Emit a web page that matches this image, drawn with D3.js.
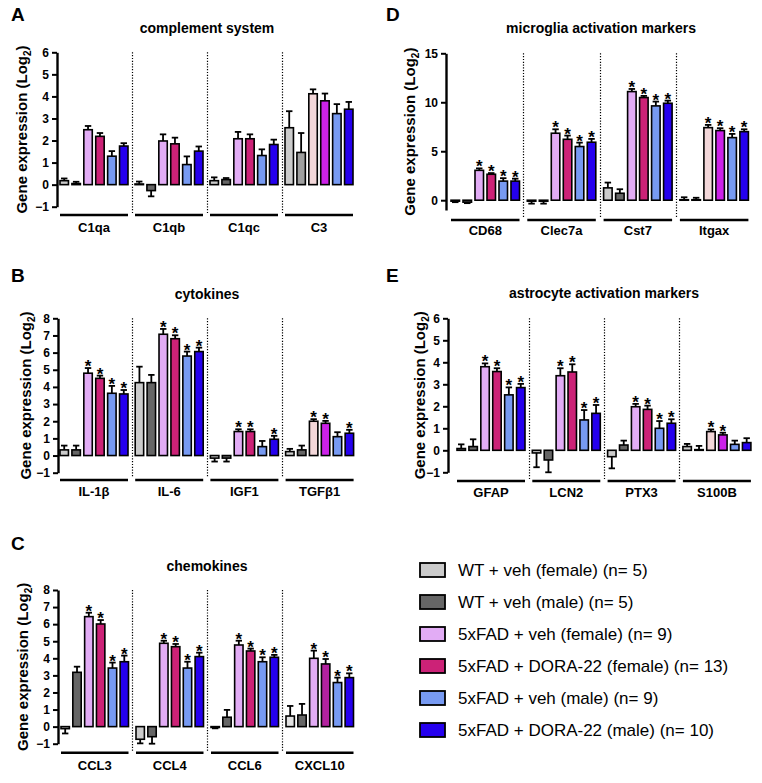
<!DOCTYPE html>
<html><head><meta charset="utf-8">
<script src="https://cdn.jsdelivr.net/npm/d3@7"></script>
<style>
body{margin:0;background:#fff}
svg{display:block}
text{font-family:"Liberation Sans",Arial,Helvetica,sans-serif;fill:#000}
</style>
</head><body>
<svg id="chart" width="762" height="783"></svg>
<script>
// ---------- data ----------
const groupNames = [
  "WT + veh (female) (n= 5)",
  "WT + veh (male) (n= 5)",
  "5xFAD + veh (female) (n= 9)",
  "5xFAD + DORA-22 (female) (n= 13)",
  "5xFAD + veh (male) (n= 9)",
  "5xFAD + DORA-22 (male) (n= 10)"
];

// A: complement system
const complementCats = ["C1qa", "C1qb", "C1qc", "C3"];
const complementMeans = [
  [0.18, 0.05, 2.49, 2.19, 1.29, 1.75],
  [0.03, -0.27, 1.98, 1.85, 0.91, 1.52],
  [0.18, 0.23, 2.08, 2.08, 1.32, 1.82],
  [2.58, 1.46, 4.12, 3.80, 3.22, 3.42]
];
const complementSEM = [
  [0.10, 0.08, 0.17, 0.15, 0.23, 0.13],
  [0.11, 0.26, 0.30, 0.28, 0.37, 0.21],
  [0.15, 0.07, 0.31, 0.20, 0.28, 0.22],
  [0.75, 0.88, 0.20, 0.33, 0.43, 0.33]
];
const complementSig = [
  [0,0,0,0,0,0],[0,0,0,0,0,0],[0,0,0,0,0,0],[0,0,0,0,0,0]
];

// B: cytokines
const cytokineCats = ["IL-1β", "IL-6", "IGF1", "TGFβ1"];
const cytokineMeans = [
  [0.33, 0.33, 4.80, 4.50, 3.63, 3.59],
  [4.25, 4.25, 7.07, 6.81, 5.80, 6.06],
  [-0.15, -0.15, 1.40, 1.40, 0.52, 0.95],
  [0.23, 0.33, 2.00, 1.88, 1.10, 1.30]
];
const cytokineSEM = [
  [0.25, 0.25, 0.30, 0.16, 0.43, 0.23],
  [0.93, 0.45, 0.31, 0.20, 0.26, 0.23],
  [0.20, 0.20, 0.13, 0.13, 0.33, 0.20],
  [0.16, 0.25, 0.12, 0.14, 0.26, 0.20]
];
const cytokineSig = [
  [0,0,1,1,1,1],[0,0,1,1,1,1],[0,0,1,1,0,1],[0,0,1,1,0,1]
];

// C: chemokines
const chemokineCats = ["CCL3", "CCL4", "CCL6", "CXCL10"];
const chemokineMeans = [
  [-0.12, 3.18, 6.44, 6.01, 3.43, 3.80],
  [-0.74, -0.59, 4.88, 4.68, 3.43, 4.10],
  [-0.05, 0.55, 4.78, 4.43, 3.80, 4.06],
  [0.62, 0.68, 4.00, 3.67, 2.58, 2.87]
];
const chemokineSEM = [
  [0.28, 0.33, 0.23, 0.23, 0.32, 0.36],
  [0.24, 0.41, 0.15, 0.16, 0.37, 0.23],
  [0.05, 0.43, 0.25, 0.14, 0.26, 0.14],
  [0.59, 0.65, 0.45, 0.29, 0.29, 0.25]
];
const chemokineSig = [
  [0,0,1,1,1,1],[0,0,1,1,1,1],[0,0,1,1,1,1],[0,0,1,1,1,1]
];

// D: microglia activation markers
const microgliaCats = ["CD68", "Clec7a", "Cst7", "Itgax"];
const microgliaMeans = [
  [-0.10, -0.20, 3.05, 2.65, 1.95, 1.95],
  [-0.10, -0.10, 6.84, 6.22, 5.48, 5.92],
  [1.26, 0.71, 11.09, 10.48, 9.63, 9.90],
  [0.05, 0.05, 7.41, 7.11, 6.39, 7.00]
];
const microgliaSEM = [
  [0.10, 0.10, 0.20, 0.12, 0.30, 0.25],
  [0.25, 0.25, 0.40, 0.38, 0.40, 0.34],
  [0.54, 0.41, 0.27, 0.17, 0.44, 0.27],
  [0.25, 0.20, 0.28, 0.24, 0.38, 0.24]
];
const microgliaSig = [
  [0,0,1,1,1,1],[0,0,1,1,1,1],[0,0,1,1,1,1],[0,0,1,1,1,1]
];

// E: astrocyte activation markers
const astrocyteCats = ["GFAP", "LCN2", "PTX3", "S100B"];
const astrocyteMeans = [
  [0.08, 0.17, 3.80, 3.58, 2.52, 2.85],
  [-0.12, -0.44, 3.39, 3.56, 1.38, 1.68],
  [-0.29, 0.24, 1.98, 1.86, 1.00, 1.23],
  [0.17, 0.03, 0.85, 0.70, 0.27, 0.35]
];
const astrocyteSEM = [
  [0.19, 0.33, 0.15, 0.15, 0.34, 0.17],
  [0.65, 0.56, 0.34, 0.35, 0.45, 0.38],
  [0.53, 0.20, 0.13, 0.17, 0.33, 0.18],
  [0.12, 0.17, 0.10, 0.10, 0.17, 0.20]
];
const astrocyteSig = [
  [0,0,1,1,1,1],[0,0,1,1,1,1],[0,0,1,1,1,1],[0,0,1,1,0,0]
];

// ---------- styles ----------
const groupColors = ["#cbcbcb", "#666666", "#e2acf5", "#cc2277", "#779af2", "#2500ee"];
const colorOverrides = {
  "C3":     {1: "#9f9f9f", 2: "#f3d7d9", 3: "#cc22e8"},
  "TGFβ1":  {2: "#f3d7d9", 3: "#cc22e8"},
  "Itgax":  {2: "#f3d7d9", 3: "#cc22e8"},
  "S100B":  {2: "#f3d7d9", 3: "#cc22e8"},
  "CXCL10": {0: "#e2e2e2", 3: "#b3229f"}
};
const FONT = '"Liberation Sans",Arial,Helvetica,sans-serif';

const svg = d3.select("#chart");

function drawPanel(p) {
  const g = svg.append("g");
  const y = d3.scaleLinear().domain(p.domain).range([p.yBot, p.yTop]);
  const x0 = d3.scaleBand().domain(p.cats)
    .range([p.groupStart, p.groupStart + p.step * 3 + p.width])
    .paddingInner(1 - p.width / p.step).paddingOuter(0);
  const x1 = d3.scaleBand().domain(d3.range(6))
    .range([0, x0.bandwidth()]).paddingInner(0.29).paddingOuter(0);

  // panel letter
  g.append("text").attr("x", p.letterX).attr("y", p.letterY)
    .attr("font-size", 19).attr("font-weight", "bold").text(p.letter);
  // title
  g.append("text").attr("x", p.titleX).attr("y", p.titleY)
    .attr("text-anchor", "middle").attr("font-size", 14).attr("font-weight", "bold").text(p.title);

  // y axis
  const ax = g.append("g").attr("transform", `translate(${p.axisX},0)`)
    .call(d3.axisLeft(y).tickValues(p.ticks).tickSize(5).tickSizeOuter(0).tickPadding(3).tickFormat(d3.format("d")));
  ax.select(".domain").attr("stroke", "#000").attr("stroke-width", 2.4);
  ax.selectAll(".tick line").attr("stroke", "#000").attr("stroke-width", 2);
  ax.selectAll(".tick text").attr("font-size", 12).attr("font-weight", "bold")
    .attr("font-family", FONT).attr("fill", "#000");

  // y title
  const mid = (p.yTop + p.yBot) / 2;
  const yt = g.append("text").attr("transform", `translate(${p.yTitleX},${mid}) rotate(-90)`)
    .attr("text-anchor", "middle").attr("dy", "0.35em")
    .attr("font-size", 15).attr("font-weight", "bold");
  yt.append("tspan").text("Gene expression (Log");
  yt.append("tspan").attr("font-size", 10).attr("dy", 4).text("2");
  yt.append("tspan").attr("dy", -4).text(")");

  // dotted separators
  const gap = p.step - p.width;
  p.cats.slice(1).forEach(c => {
    const sx = Math.round(x0(c) - gap / 2) + 0.5;
    g.append("line").attr("x1", sx).attr("x2", sx).attr("y1", p.yTop).attr("y2", p.underlineY - 2)
      .attr("stroke", "#000").attr("stroke-width", 1.2).attr("stroke-dasharray", "1.2,1.6");
  });

  // bars
  p.cats.forEach((c, ci) => {
    const gx = x0(c);
    p.means[ci].forEach((v, i) => {
      const e = p.sem[ci][i];
      const col = (colorOverrides[c] && colorOverrides[c][i]) || groupColors[i];
      const bx = gx + x1(i), bw = x1.bandwidth(), cx = bx + bw / 2;
      const tip = v >= 0 ? v + e : v - e;
      // error bar
      g.append("line").attr("x1", cx).attr("x2", cx).attr("y1", y(v)).attr("y2", y(tip))
        .attr("stroke", "#000").attr("stroke-width", 1.8);
      g.append("line").attr("x1", cx - bw * 0.38).attr("x2", cx + bw * 0.38).attr("y1", y(tip)).attr("y2", y(tip))
        .attr("stroke", "#000").attr("stroke-width", 1.8);
      // bar
      g.append("rect").attr("x", bx).attr("width", bw)
        .attr("y", y(Math.max(0, v))).attr("height", Math.max(0.5, Math.abs(y(v) - y(0))))
        .attr("fill", col).attr("stroke", "#000").attr("stroke-width", 1.6);
      if (p.sig[ci][i]) {
        g.append("text").attr("x", cx).attr("y", y(tip) + 4)
          .attr("text-anchor", "middle").attr("font-size", 17).attr("font-weight", "bold").text("*");
      }
    });
    // underline + label
    g.append("line").attr("x1", gx).attr("x2", gx + x0.bandwidth())
      .attr("y1", p.underlineY).attr("y2", p.underlineY)
      .attr("stroke", "#000").attr("stroke-width", 2.5);
    g.append("text").attr("x", gx + x0.bandwidth() / 2).attr("y", p.labelY)
      .attr("text-anchor", "middle").attr("font-size", 13).attr("font-weight", "bold").text(c);
  });
}

drawPanel({
  letter: "A", letterX: 11, letterY: 21, title: "complement system", titleX: 207, titleY: 33,
  cats: complementCats, means: complementMeans, sem: complementSEM, sig: complementSig,
  domain: [-1, 6], ticks: [-1, 0, 1, 2, 3, 4, 5, 6], axisX: 57, yTop: 52.3, yBot: 206.7,
  groupStart: 60, width: 68, step: 75, underlineY: 215, labelY: 232, yTitleX: 22
});
drawPanel({
  letter: "B", letterX: 11, letterY: 282, title: "cytokines", titleX: 207, titleY: 299,
  cats: cytokineCats, means: cytokineMeans, sem: cytokineSEM, sig: cytokineSig,
  domain: [-1, 8], ticks: [-1, 0, 1, 2, 3, 4, 5, 6, 7, 8], axisX: 58, yTop: 318.3, yBot: 472.7,
  groupStart: 60, width: 68, step: 75.2, underlineY: 480, labelY: 496, yTitleX: 26
});
drawPanel({
  letter: "C", letterX: 11, letterY: 550, title: "chemokines", titleX: 207, titleY: 571,
  cats: chemokineCats, means: chemokineMeans, sem: chemokineSEM, sig: chemokineSig,
  domain: [-1, 8], ticks: [-1, 0, 1, 2, 3, 4, 5, 6, 7, 8], axisX: 58, yTop: 590, yBot: 743.7,
  groupStart: 61, width: 67.5, step: 75, underlineY: 752.7, labelY: 770, yTitleX: 23
});
drawPanel({
  letter: "D", letterX: 386, letterY: 21, title: "microglia activation markers", titleX: 601, titleY: 33,
  cats: microgliaCats, means: microgliaMeans, sem: microgliaSEM, sig: microgliaSig,
  domain: [-1, 15], ticks: [0, 5, 10, 15], axisX: 446, yTop: 53.3, yBot: 210,
  groupStart: 451, width: 68.5, step: 76.3, underlineY: 220, labelY: 235, yTitleX: 410
});
drawPanel({
  letter: "E", letterX: 386, letterY: 282, title: "astrocyte activation markers", titleX: 604, titleY: 298,
  cats: astrocyteCats, means: astrocyteMeans, sem: astrocyteSEM, sig: astrocyteSig,
  domain: [-1, 6], ticks: [-1, 0, 1, 2, 3, 4, 5, 6], axisX: 448, yTop: 318.3, yBot: 472.3,
  groupStart: 457, width: 68, step: 75.3, underlineY: 481, labelY: 497, yTitleX: 420
});

// legend
const legendY = d3.scalePoint().domain(d3.range(groupNames.length)).range([570, 730]);
const lg = svg.append("g");
groupNames.forEach((name, i) => {
  const cy = legendY(i);
  lg.append("rect").attr("x", 420).attr("y", cy - 7).attr("width", 25).attr("height", 14)
    .attr("fill", groupColors[i]).attr("stroke", "#000").attr("stroke-width", 1.8);
  lg.append("text").attr("x", 458).attr("y", cy).attr("dy", "0.36em")
    .attr("font-size", 17).text(name);
});
</script>
</body></html>
